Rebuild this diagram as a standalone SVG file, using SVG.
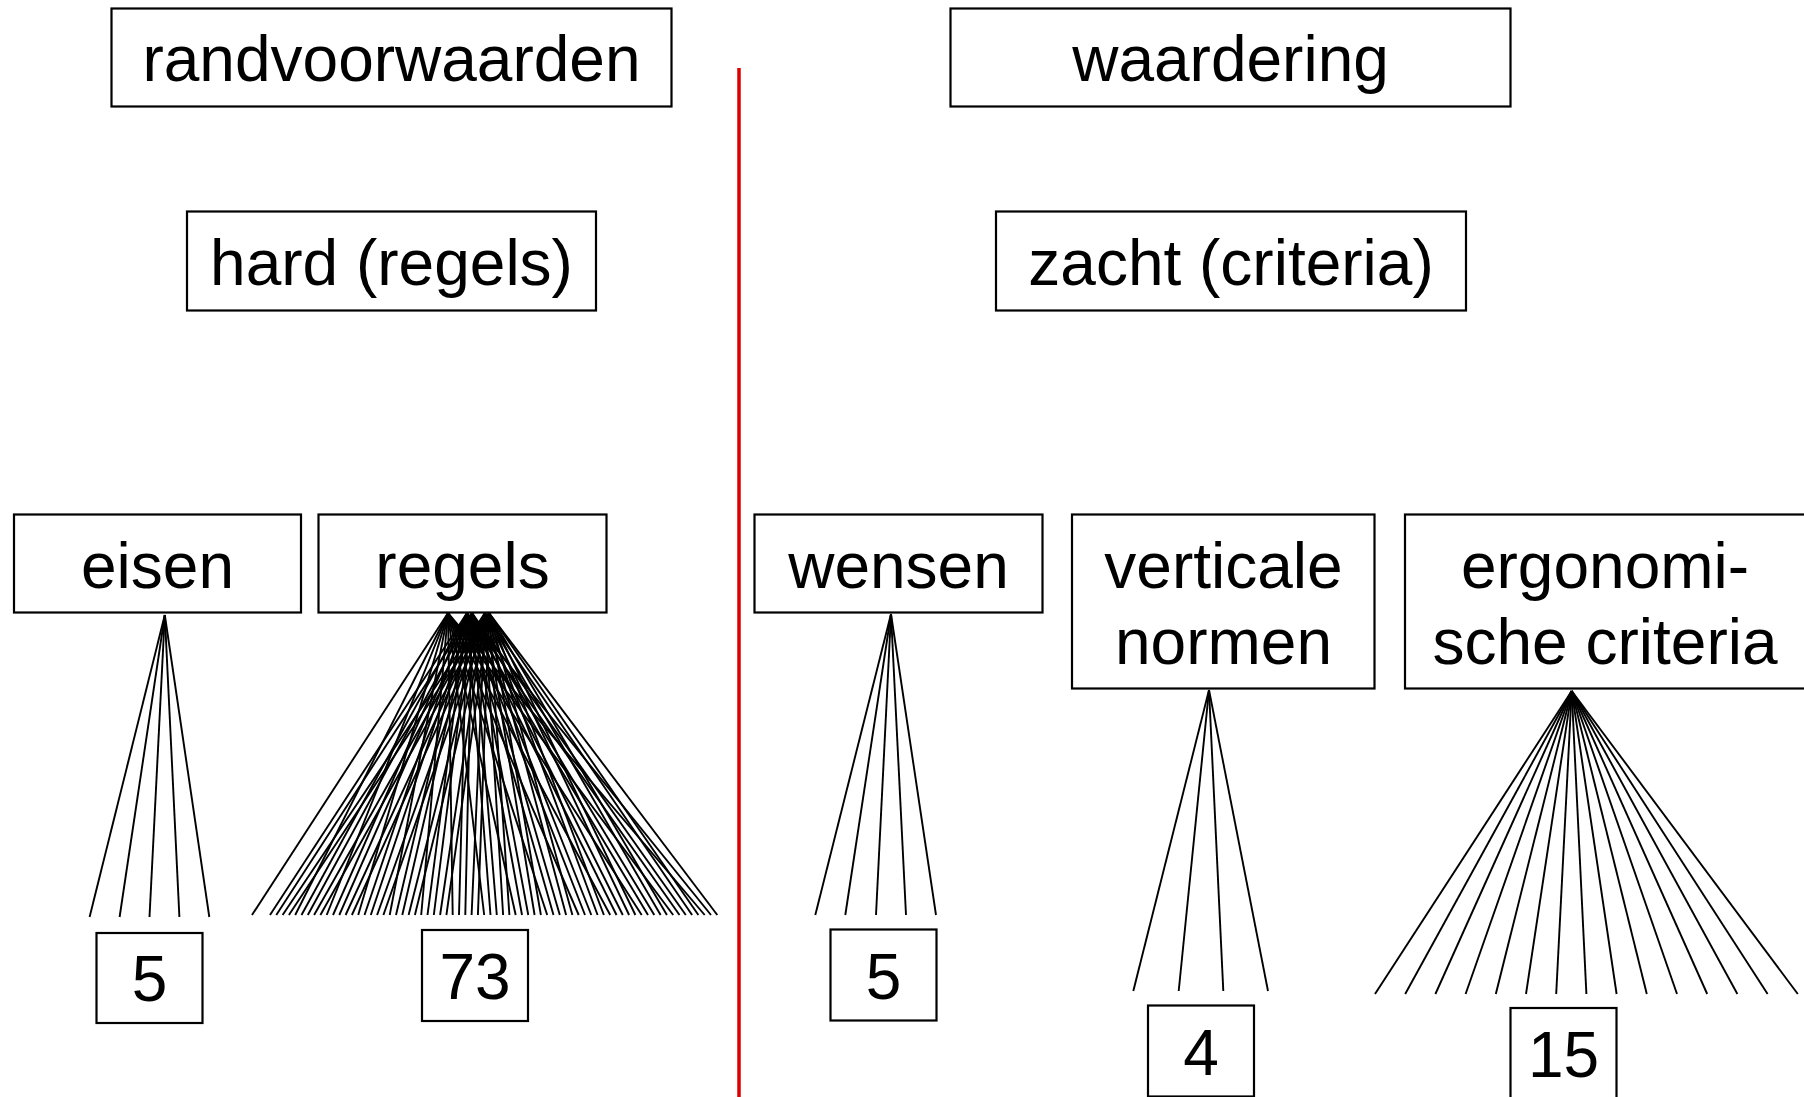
<svg xmlns="http://www.w3.org/2000/svg" width="1804" height="1097" viewBox="0 0 1804 1097">
<style>
.box{fill:#fff;stroke:#000;stroke-width:2.2}
.t{font-family:"Liberation Sans",Arial,sans-serif;font-size:64px;fill:#000;text-anchor:middle}
.c line{stroke:#000;stroke-width:1.9}
</style>
<rect width="1804" height="1097" fill="#fff"/>
<line id="divider" x1="739" y1="68" x2="739" y2="1097" stroke="#dd0000" stroke-width="3.5"/>
<g id="randvoorwaarden"><rect class="box" x="111.5" y="8.5" width="560" height="98"/><text class="t" x="391.5" y="81">randvoorwaarden</text></g>
<g id="waardering"><rect class="box" x="950.5" y="8.5" width="560" height="98"/><text class="t" x="1230.5" y="81">waardering</text></g>
<g id="hard"><rect class="box" x="187" y="211.5" width="409" height="99"/><text class="t" x="391.5" y="285">hard (regels)</text></g>
<g id="zacht"><rect class="box" x="996" y="211.5" width="470" height="99"/><text class="t" x="1231" y="285">zacht (criteria)</text></g>
<g id="eisen"><rect class="box" x="14" y="514.5" width="287" height="98"/><text class="t" x="157.5" y="587.5">eisen</text></g>
<g id="regels"><rect class="box" x="318.5" y="514.5" width="288" height="98"/><text class="t" x="462.5" y="587.5">regels</text></g>
<g id="wensen"><rect class="box" x="754.5" y="514.5" width="288" height="98"/><text class="t" x="898.5" y="587.5">wensen</text></g>
<g id="verticale-normen"><rect class="box" x="1072" y="514.5" width="302.5" height="174"/><text class="t" x="1223.5" y="588">verticale</text><text class="t" x="1223.5" y="664">normen</text></g>
<g id="ergonomische-criteria"><rect class="box" x="1405" y="514.5" width="420" height="174"/><text class="t" x="1605" y="588">ergonomi-</text><text class="t" x="1605" y="664">sche criteria</text></g>
<g id="n5-eisen"><rect class="box" x="96.5" y="933" width="106" height="90"/><text class="t" x="149.5" y="1001">5</text></g>
<g id="n73"><rect class="box" x="422" y="930" width="106" height="91"/><text class="t" x="475" y="998.5">73</text></g>
<g id="n5-wensen"><rect class="box" x="830.5" y="929.5" width="106" height="91"/><text class="t" x="883.5" y="998.5">5</text></g>
<g id="n4"><rect class="box" x="1148" y="1005.5" width="106" height="91"/><text class="t" x="1201" y="1075">4</text></g>
<g id="n15"><rect class="box" x="1510.5" y="1008" width="106" height="100"/><text class="t" x="1563.5" y="1077">15</text></g>
<g id="connectors" class="c">
<line x1="164.8" y1="615" x2="89.6" y2="917"/><line x1="164.8" y1="615" x2="119.6" y2="917"/><line x1="164.8" y1="615" x2="149.5" y2="917"/><line x1="164.8" y1="615" x2="179.4" y2="917"/><line x1="164.8" y1="615" x2="209.3" y2="917"/>
<line x1="448" y1="613" x2="252" y2="915"/><line x1="467" y1="613" x2="270" y2="915"/><line x1="472" y1="613" x2="276.3" y2="915"/><line x1="485" y1="613" x2="282.6" y2="915"/><line x1="489" y1="613" x2="288.9" y2="915"/>
<line x1="448" y1="613" x2="295.2" y2="915"/><line x1="467" y1="613" x2="301.5" y2="915"/><line x1="472" y1="613" x2="307.8" y2="915"/><line x1="485" y1="613" x2="314.1" y2="915"/><line x1="489" y1="613" x2="320.4" y2="915"/>
<line x1="448" y1="613" x2="326.7" y2="915"/><line x1="467" y1="613" x2="333" y2="915"/><line x1="472" y1="613" x2="339.3" y2="915"/><line x1="485" y1="613" x2="345.6" y2="915"/><line x1="489" y1="613" x2="351.9" y2="915"/>
<line x1="448" y1="613" x2="358.2" y2="915"/><line x1="467" y1="613" x2="364.5" y2="915"/><line x1="472" y1="613" x2="370.8" y2="915"/><line x1="485" y1="613" x2="377.1" y2="915"/><line x1="489" y1="613" x2="383.4" y2="915"/>
<line x1="448" y1="613" x2="389.7" y2="915"/><line x1="467" y1="613" x2="396" y2="915"/><line x1="472" y1="613" x2="402.3" y2="915"/><line x1="485" y1="613" x2="408.6" y2="915"/><line x1="489" y1="613" x2="414.9" y2="915"/>
<line x1="448" y1="613" x2="421.2" y2="915"/><line x1="467" y1="613" x2="427.5" y2="915"/><line x1="472" y1="613" x2="433.8" y2="915"/><line x1="485" y1="613" x2="440.1" y2="915"/><line x1="489" y1="613" x2="446.4" y2="915"/>
<line x1="448" y1="613" x2="452.7" y2="915"/><line x1="467" y1="613" x2="459" y2="915"/><line x1="472" y1="613" x2="465.3" y2="915"/><line x1="485" y1="613" x2="471.6" y2="915"/><line x1="489" y1="613" x2="477.9" y2="915"/>
<line x1="448" y1="613" x2="484.2" y2="915"/><line x1="467" y1="613" x2="490.5" y2="915"/><line x1="472" y1="613" x2="496.8" y2="915"/><line x1="485" y1="613" x2="503.1" y2="915"/><line x1="489" y1="613" x2="509.4" y2="915"/>
<line x1="448" y1="613" x2="515.7" y2="915"/><line x1="467" y1="613" x2="522" y2="915"/><line x1="472" y1="613" x2="528.3" y2="915"/><line x1="485" y1="613" x2="534.6" y2="915"/><line x1="489" y1="613" x2="540.9" y2="915"/>
<line x1="448" y1="613" x2="547.2" y2="915"/><line x1="467" y1="613" x2="553.5" y2="915"/><line x1="472" y1="613" x2="559.8" y2="915"/><line x1="485" y1="613" x2="566.1" y2="915"/><line x1="489" y1="613" x2="572.4" y2="915"/>
<line x1="448" y1="613" x2="578.7" y2="915"/><line x1="467" y1="613" x2="585" y2="915"/><line x1="472" y1="613" x2="591.3" y2="915"/><line x1="485" y1="613" x2="597.6" y2="915"/><line x1="489" y1="613" x2="603.9" y2="915"/>
<line x1="448" y1="613" x2="610.2" y2="915"/><line x1="467" y1="613" x2="616.5" y2="915"/><line x1="472" y1="613" x2="622.8" y2="915"/><line x1="485" y1="613" x2="629.1" y2="915"/><line x1="489" y1="613" x2="635.4" y2="915"/>
<line x1="448" y1="613" x2="641.7" y2="915"/><line x1="467" y1="613" x2="648" y2="915"/><line x1="472" y1="613" x2="654.3" y2="915"/><line x1="485" y1="613" x2="660.6" y2="915"/><line x1="489" y1="613" x2="666.9" y2="915"/>
<line x1="448" y1="613" x2="673.2" y2="915"/><line x1="467" y1="613" x2="679.5" y2="915"/><line x1="472" y1="613" x2="685.8" y2="915"/><line x1="485" y1="613" x2="692.1" y2="915"/><line x1="489" y1="613" x2="698.4" y2="915"/>
<line x1="448" y1="613" x2="704.7" y2="915"/><line x1="467" y1="613" x2="711" y2="915"/><line x1="489" y1="613" x2="717.3" y2="915"/>
<line x1="891" y1="614" x2="815.3" y2="915"/><line x1="891" y1="614" x2="845.3" y2="915"/><line x1="891" y1="614" x2="876" y2="915"/><line x1="891" y1="614" x2="906" y2="915"/><line x1="891" y1="614" x2="936" y2="915"/>
<line x1="1209" y1="690" x2="1133.3" y2="991"/><line x1="1209" y1="690" x2="1178.7" y2="991"/><line x1="1209" y1="690" x2="1223.3" y2="991"/><line x1="1209" y1="690" x2="1268" y2="991"/>
<line x1="1571.7" y1="691" x2="1375" y2="994"/><line x1="1571.7" y1="691" x2="1405.2" y2="994"/><line x1="1571.7" y1="691" x2="1435.4" y2="994"/><line x1="1571.7" y1="691" x2="1465.6" y2="994"/><line x1="1571.7" y1="691" x2="1495.8" y2="994"/>
<line x1="1571.7" y1="691" x2="1526" y2="994"/><line x1="1571.7" y1="691" x2="1556.2" y2="994"/><line x1="1571.7" y1="691" x2="1586.4" y2="994"/><line x1="1571.7" y1="691" x2="1616.6" y2="994"/><line x1="1571.7" y1="691" x2="1646.8" y2="994"/>
<line x1="1571.7" y1="691" x2="1677" y2="994"/><line x1="1571.7" y1="691" x2="1707.2" y2="994"/><line x1="1571.7" y1="691" x2="1737.4" y2="994"/><line x1="1571.7" y1="691" x2="1767.6" y2="994"/><line x1="1571.7" y1="691" x2="1797.8" y2="994"/>
</g>
</svg>
